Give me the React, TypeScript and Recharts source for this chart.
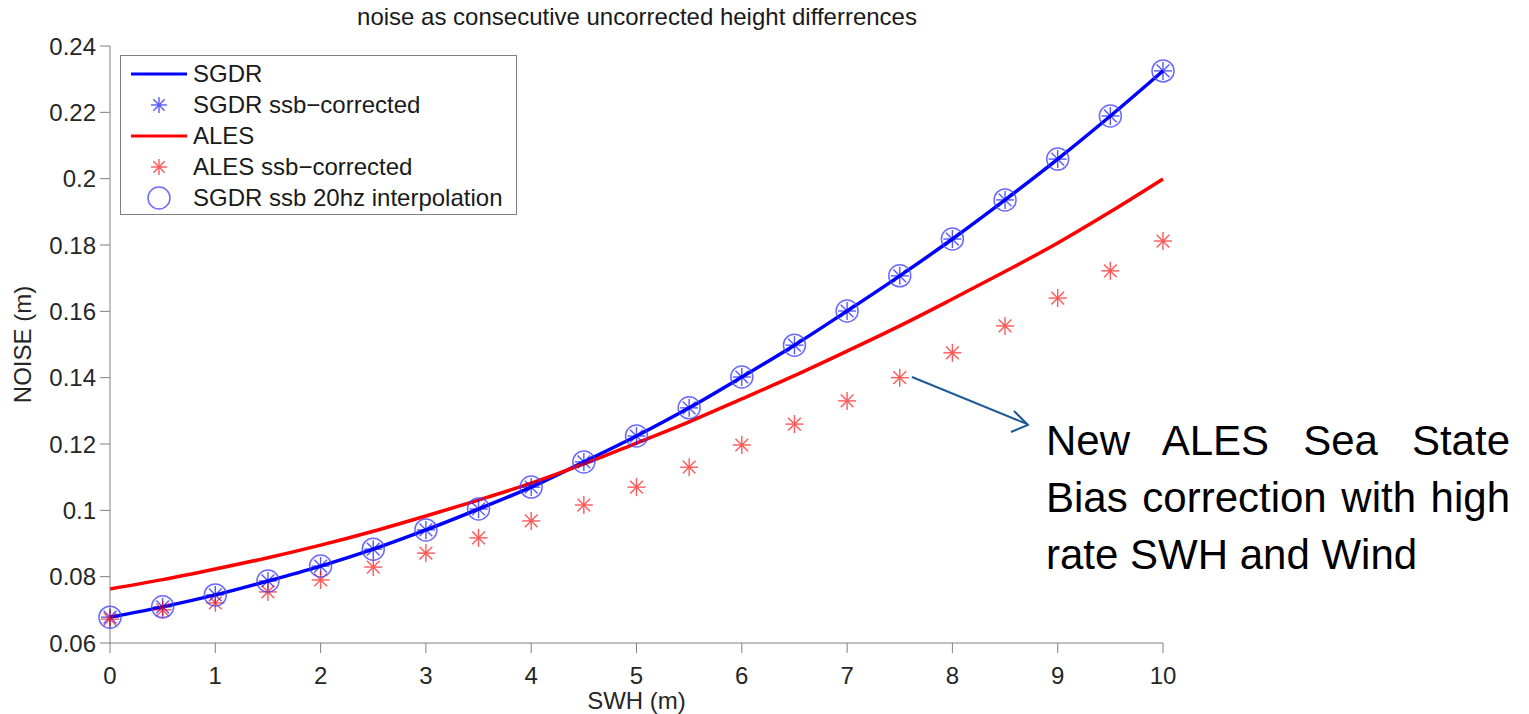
import { ComposedChart, Line, Scatter, XAxis, YAxis } from "recharts";

const swh = [0, 0.5, 1, 1.5, 2, 2.5, 3, 3.5, 4, 4.5, 5, 5.5, 6, 6.5, 7, 7.5, 8, 8.5, 9, 9.5, 10];

const sgdr = [
  0.0678, 0.0709, 0.0745, 0.0787, 0.0832, 0.0883, 0.0941, 0.1004, 0.107, 0.1146, 0.1224,
  0.1309, 0.1402, 0.1498, 0.1601, 0.1707, 0.1818, 0.1936, 0.2059, 0.2189, 0.2325,
];
const sgdrCorrected = [...sgdr];
const sgdr20hz = [...sgdr];

const ales = [
  0.0763, 0.0791, 0.0823, 0.0857, 0.0895, 0.0937, 0.0983, 0.1031, 0.1082, 0.114, 0.1203,
  0.1267, 0.1336, 0.1406, 0.148, 0.1556, 0.1637, 0.172, 0.1806, 0.19, 0.1999,
];
const alesCorrected = [
  0.0672, 0.07, 0.0721, 0.0754, 0.079, 0.0829, 0.0871, 0.0917, 0.0968, 0.1016, 0.107,
  0.113, 0.1197, 0.126, 0.133, 0.14, 0.1475, 0.1556, 0.164, 0.1722, 0.1812,
];

const xTicks = [0, 1, 2, 3, 4, 5, 6, 7, 8, 9, 10];
const yTicks = [0.06, 0.08, 0.1, 0.12, 0.14, 0.16, 0.18, 0.2, 0.22, 0.24];

const rows = swh.map((x, i) => ({
  x,
  sgdr: sgdr[i],
  sgdrCorrected: sgdrCorrected[i],
  sgdr20hz: sgdr20hz[i],
  ales: ales[i],
  alesCorrected: alesCorrected[i],
}));

const FONT = "'Liberation Sans', Arial, Helvetica, sans-serif";
const BLUE = "#0000ff";
const RED = "#ff0000";

const tickStyle = { fill: "#262626", fontSize: 24, fontFamily: FONT };

function Star({ cx, cy, color, r = 9 }: { cx: number; cy: number; color: string; r?: number }) {
  const d = r * Math.SQRT1_2;
  return (
    <g stroke={color} strokeWidth={1.4} opacity={0.65}>
      <line x1={cx - r} y1={cy} x2={cx + r} y2={cy} />
      <line x1={cx} y1={cy - r} x2={cx} y2={cy + r} />
      <line x1={cx - d} y1={cy - d} x2={cx + d} y2={cy + d} />
      <line x1={cx - d} y1={cy + d} x2={cx + d} y2={cy - d} />
      <circle cx={cx} cy={cy} r={1.6} fill={color} stroke="none" />
    </g>
  );
}

function Ring({ cx, cy }: { cx: number; cy: number }) {
  return <circle cx={cx} cy={cy} r={11} fill="none" stroke="#3a3aff" strokeWidth={1.5} opacity={0.75} />;
}

const legendItems = [
  { label: "SGDR", kind: "line", color: BLUE },
  { label: "SGDR ssb\u2212corrected", kind: "star", color: BLUE },
  { label: "ALES", kind: "line", color: RED },
  { label: "ALES ssb\u2212corrected", kind: "star", color: RED },
  { label: "SGDR ssb 20hz interpolation", kind: "ring", color: BLUE },
];

function LegendBox() {
  return (
    <div
      style={{
        position: "absolute",
        left: 120,
        top: 55,
        width: 397,
        height: 160,
        border: "1px solid #808080",
        background: "#fff",
        fontFamily: FONT,
        fontSize: 24,
        color: "#1a1a1a",
        boxSizing: "border-box",
        paddingTop: 2,
      }}
    >
      {legendItems.map((it) => (
        <div key={it.label} style={{ display: "flex", alignItems: "center", height: 31.2 }}>
          <svg width={72} height={30} style={{ flexShrink: 0 }}>
            {it.kind === "line" && <line x1={10} y1={15} x2={66} y2={15} stroke={it.color} strokeWidth={3} />}
            {it.kind === "star" && <Star cx={38} cy={15} color={it.color} r={8} />}
            {it.kind === "ring" && <Ring cx={38} cy={15} />}
          </svg>
          <span>{it.label}</span>
        </div>
      ))}
    </div>
  );
}

export default function App() {
  return (
    <div style={{ position: "absolute", left: 0, top: 0, width: 1529, height: 714, background: "#fff" }}>
      <ComposedChart
        width={1529}
        height={714}
        data={rows}
        margin={{ top: 46, right: 366, bottom: 0, left: 0 }}
      >
        <XAxis
          dataKey="x"
          type="number"
          domain={[0, 10]}
          ticks={xTicks}
          tick={tickStyle}
          tickSize={10}
          tickMargin={14}
          stroke="#808080"
          height={71}
          label={{ value: "SWH (m)", position: "insideBottom", offset: 5, fill: "#262626", fontSize: 24, fontFamily: FONT }}
        />
        <YAxis
          type="number"
          domain={[0.06, 0.24]}
          ticks={yTicks}
          tick={tickStyle}
          tickSize={10}
          tickMargin={4}
          stroke="#808080"
          width={110}
          tickFormatter={(v: number) => String(Number(v.toFixed(2)))}
          label={{
            value: "NOISE (m)",
            angle: -90,
            position: "insideLeft",
            offset: 22,
            fill: "#262626",
            fontSize: 24,
            fontFamily: FONT,
            style: { textAnchor: "middle" },
          }}
        />
        <Line type="monotone" dataKey="sgdr" stroke={BLUE} strokeWidth={3.5} dot={false} isAnimationActive={false} />
        <Scatter
          dataKey="sgdrCorrected"
          isAnimationActive={false}
          shape={(p: any) => <Star cx={p.cx} cy={p.cy} color={BLUE} />}
        />
        <Line type="monotone" dataKey="ales" stroke={RED} strokeWidth={3.5} dot={false} isAnimationActive={false} />
        <Scatter
          dataKey="alesCorrected"
          isAnimationActive={false}
          shape={(p: any) => <Star cx={p.cx} cy={p.cy} color={RED} />}
        />
        <Scatter
          dataKey="sgdr20hz"
          isAnimationActive={false}
          shape={(p: any) => <Ring cx={p.cx} cy={p.cy} />}
        />
      </ComposedChart>

      <div
        style={{
          position: "absolute",
          left: 0,
          width: 1274,
          top: 3,
          textAlign: "center",
          fontFamily: FONT,
          fontSize: 24,
          color: "#1a1a1a",
        }}
      >
        noise as consecutive uncorrected height differrences
      </div>

      <LegendBox />

      <svg style={{ position: "absolute", left: 0, top: 0 }} width={1529} height={714} pointerEvents="none">
        <line x1={912} y1={377} x2={1027} y2={424} stroke="#1f5a96" strokeWidth={2} />
        <polyline points="1014,411 1028,425 1011,432" fill="none" stroke="#1f5a96" strokeWidth={2} />
      </svg>

      <div
        style={{
          position: "absolute",
          left: 1046,
          top: 412,
          width: 464,
          fontFamily: FONT,
          fontSize: 42,
          lineHeight: "57px",
          color: "#000",
          textAlign: "justify",
        }}
      >
        New ALES Sea State Bias correction with high rate SWH and Wind
      </div>
    </div>
  );
}
